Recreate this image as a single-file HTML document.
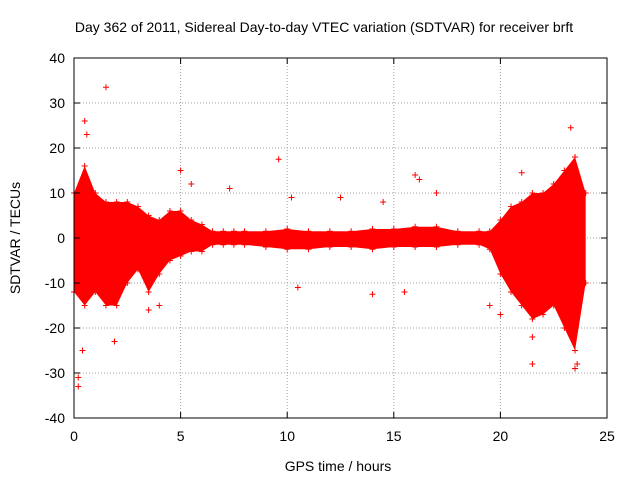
<!DOCTYPE html>
<html><head><meta charset="utf-8"><style>
body{margin:0;background:#fff;}
svg{display:block;font-family:"Liberation Sans",sans-serif;}
</style></head><body>
<svg id="chart" width="640" height="480">
<text x="324" y="32" font-size="14" text-anchor="middle">Day 362 of 2011, Sidereal Day-to-day VTEC variation (SDTVAR) for receiver brft</text>
<text x="338" y="471" font-size="14" text-anchor="middle">GPS time / hours</text>
<text transform="translate(20,238) rotate(-90)" font-size="14" text-anchor="middle">SDTVAR / TECUs</text>
<g id="grid"></g><g id="marks"></g><g id="axes"></g>
</svg>
<script>
const xTicks=[0,5,10,15,20,25];
const yTicks=[-40,-30,-20,-10,0,10,20,30,40];
const bandHours=[0,0.5,1,1.5,2,2.5,3,3.5,4,4.5,5,5.5,6,6.5,7,7.5,8,9,10,11,12,13,14,15,16,17,18,19,19.5,20,20.5,21,21.5,22,22.5,23,23.5,24];
const bandUpper=[10,16,10,8,8,8,7,5,4,6,6,4,3,1.5,1.5,1.5,1.5,1.5,2,1.5,1.5,1.5,2,2,2.5,2.5,1.5,1.5,1.5,4,7,8,10,10,12,15,18,10];
const bandLower=[-12,-15,-12,-15,-15,-10,-7,-12,-8,-5,-4,-3,-3,-1.5,-1.5,-1.5,-1.5,-2,-2.5,-2.5,-2,-2,-2.5,-2,-2,-2,-1.5,-1.5,-2.5,-8,-12,-15,-18,-17,-15,-20,-25,-10];
const outlierHours=[1.5,0.5,0.6,9.6,16,23.3,0.2,0.2,23.5,21.5,10.5,14,15.5,19.5,20,21.5,1.9,7.3,10.2,12.5,14.5,17,5.5,5,21,16.2,0.4,23.6,3.5,4];
const outlierValues=[33.5,26,23,17.5,14,24.5,-33,-31,-29,-28,-11,-12.5,-12,-15,-17,-22,-23,11,9,9,8,10,12,15,14.5,13,-25,-28,-16,-15];
const X0=74,X1=607,Y0=418,Y1=58;
const xs=v=>X0+(v-0)/(25-0)*(X1-X0);
const ys=v=>Y0-(v+40)/80*(Y0-Y1);
const NS="http://www.w3.org/2000/svg";
function mk(t,a,p){const e=document.createElementNS(NS,t);for(const k in a)e.setAttribute(k,a[k]);p.appendChild(e);return e;}
const grid=document.getElementById('grid'),axes=document.getElementById('axes'),marks=document.getElementById('marks');
xTicks.forEach(t=>{
 if(t>0&&t<25){const l=mk('line',{x1:xs(t),x2:xs(t),y1:Y0,y2:Y1,stroke:'#a0a0a0','stroke-dasharray':'1,2'},grid);
 
 }
 const tx=mk('text',{x:xs(t),y:Y0+23,'font-size':14,'text-anchor':'middle'},axes);tx.textContent=t;
 
 
 mk('line',{x1:xs(t),x2:xs(t),y1:Y0,y2:Y0-6,stroke:'#000'},axes);
 mk('line',{x1:xs(t),x2:xs(t),y1:Y1,y2:Y1+6,stroke:'#000'},axes);
});
yTicks.forEach(t=>{
 if(t>-40&&t<40){const l=mk('line',{x1:X0,x2:X1,y1:ys(t),y2:ys(t),stroke:'#a0a0a0','stroke-dasharray':'1,2'},grid);
 
 }
 const tx=mk('text',{x:X0-9,y:ys(t)+5,'font-size':14,'text-anchor':'end'},axes);tx.textContent=t;
 
 
 mk('line',{x1:X0,x2:X0+6,y1:ys(t),y2:ys(t),stroke:'#000'},axes);
 mk('line',{x1:X1,x2:X1-6,y1:ys(t),y2:ys(t),stroke:'#000'},axes);
});
const fr=mk('rect',{x:X0,y:Y1,width:X1-X0,height:Y0-Y1,fill:'none',stroke:'#000'},axes);


let pts=bandHours.map((h,i)=>xs(h)+','+ys(bandUpper[i]));
pts=pts.concat(bandHours.map((h,i)=>xs(h)+','+ys(bandLower[i])).reverse());
const band=mk('polygon',{points:pts.join(' '),fill:'#ff0000'},marks);


function plus(x,y,name){const g=mk('path',{d:`M${x-3},${y}h6M${x},${y-3}v6`,stroke:'#ff0000','stroke-width':1},marks);
 
 }
bandHours.forEach((h,i)=>{plus(xs(h),ys(bandUpper[i]),'band-point');plus(xs(h),ys(bandLower[i]),'band-point');});
outlierHours.forEach((h,i)=>plus(xs(h),ys(outlierValues[i]),'outlier-point'));
</script>
</body></html>
